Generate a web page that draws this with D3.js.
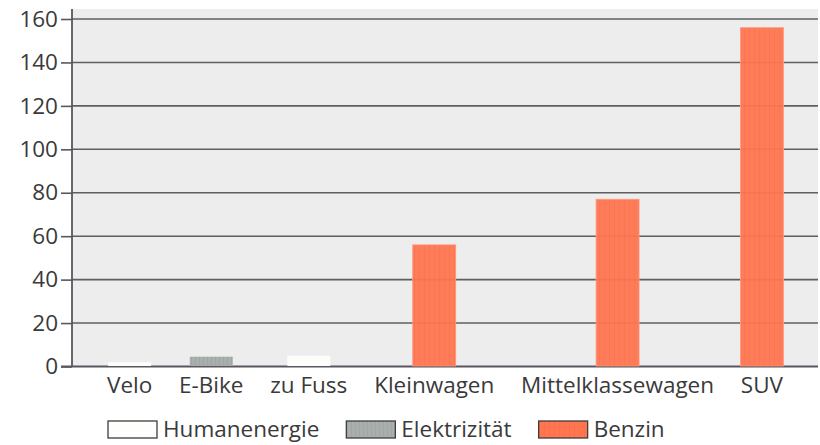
<!DOCTYPE html>
<html>
<head>
<meta charset="utf-8">
<script src="https://cdn.jsdelivr.net/npm/d3@7"></script>
<style>
  html, body { margin: 0; padding: 0; background: #ffffff; }
  svg { display: block; }
  text { font-family: "Open Sans", "Noto Sans", sans-serif; fill: #3a3a3a; }
</style>
</head>
<body>
<svg id="chart" width="820" height="445"></svg>
<script>
// Energy use per mode of transport
const categories = ["Velo", "E-Bike", "zu Fuss", "Kleinwagen", "Mittelklassewagen", "SUV"];
const values = [2, 4.5, 5, 56, 77, 156];
const energySource = ["Humanenergie", "Elektrizität", "Humanenergie", "Benzin", "Benzin", "Benzin"];
const energyTypes = ["Humanenergie", "Elektrizität", "Benzin"];
const yTickValues = [0, 20, 40, 60, 80, 100, 120, 140, 160];

const colorOf = d3.scaleOrdinal().domain(energyTypes).range(["#fdfdfb", "#a9afac", "#ff7650"]);
const patternOf = { "Humanenergie": null, "Elektrizität": "stripe-grey", "Benzin": "stripe-orange" };

const svg = d3.select("#chart");
const plot = { left: 72, right: 818, top: 9, bottom: 366.5 };
const fontSize = 22.5;

// Stripe patterns used for the filled marks
const defs = svg.append("defs");
function stripes(id, base, line, op, step) {
  const p = defs.append("pattern").attr("id", id).attr("patternUnits", "userSpaceOnUse")
    .attr("width", step).attr("height", 10);
  p.append("rect").attr("width", step).attr("height", 10).attr("fill", base);
  p.append("rect").attr("x", step - 1).attr("width", 1).attr("height", 10)
    .attr("fill", line).attr("opacity", op);
}
stripes("stripe-grey", colorOf("Elektrizität"), "#97a19c", 0.45, 4);
stripes("stripe-orange", colorOf("Benzin"), "#e8603e", 0.2, 5);
const fillOf = t => patternOf[t] ? `url(#${patternOf[t]})` : colorOf(t);

// y scale
const y = d3.scaleLinear().domain([0, 160]).range([plot.bottom, 19]);

// plot background
svg.append("rect").attr("x", plot.left).attr("y", plot.top)
  .attr("width", plot.right - plot.left).attr("height", plot.bottom - plot.top)
  .attr("fill", "#ededed");

// Horizontal x positions follow the widths of the category labels
const measure = svg.append("g").attr("font-size", fontSize);
const widths = categories.map(c => {
  const t = measure.append("text").text(c);
  const w = t.node().getComputedTextLength();
  t.remove();
  return w;
});
measure.remove();
const pad = 35;
const gap = (plot.right - plot.left - 2 * pad - d3.sum(widths)) / (categories.length - 1);
let cursor = plot.left + pad;
const centers = widths.map(w => { const c = cursor + w / 2; cursor += w + gap; return c; });
const x = d3.scaleOrdinal().domain(categories).range(centers);
const barW = 43;

// y axis ticks and labels
const yAxis = d3.axisLeft(y).tickValues(yTickValues).tickSize(11).tickPadding(3)
  .tickFormat(d3.format("d"));
const gy = svg.append("g").attr("transform", `translate(${plot.left},0)`).call(yAxis);
gy.select(".domain").remove();
gy.selectAll(".tick line").attr("stroke", "#5a5560").attr("stroke-width", 1.6);
gy.selectAll(".tick text").attr("font-size", fontSize).attr("fill", "#3f3f3f")
  .attr("font-family", "\"Open Sans\", sans-serif");

// gridlines
svg.append("g").selectAll("line").data(yTickValues.filter(v => v > 0)).join("line")
  .attr("x1", plot.left).attr("x2", plot.right)
  .attr("y1", d => y(d)).attr("y2", d => y(d))
  .attr("stroke", "#5f5f5f").attr("stroke-width", 1.6);

// baseline and vertical axis
svg.append("line").attr("x1", plot.left - 11).attr("x2", plot.right)
  .attr("y1", y(0)).attr("y2", y(0)).attr("stroke", "#5a5560").attr("stroke-width", 1.8);
svg.append("line").attr("x1", plot.left).attr("x2", plot.left)
  .attr("y1", plot.top).attr("y2", y(0)).attr("stroke", "#5a5560").attr("stroke-width", 1.8);

// bars
const rows = categories.map((c, i) => ({ c, v: values[i], t: energySource[i] }));
svg.append("g").selectAll("rect").data(rows).join("rect")
  .attr("x", d => x(d.c) - barW / 2)
  .attr("y", d => y(d.v))
  .attr("width", barW)
  .attr("height", d => y(0) - y(d.v) - 0.5)
  .attr("fill", d => fillOf(d.t))
  .attr("fill-opacity", d => d.t === "Benzin" ? 0.95 : 1)
  .attr("stroke", d => d.t === "Benzin" ? "#ff9a7c" : "none")
  .attr("stroke-width", 0.8);

// category labels
svg.append("g").selectAll("text").data(categories).join("text")
  .attr("x", d => x(d)).attr("y", 393)
  .attr("text-anchor", "middle").attr("font-size", fontSize)
  .text(d => d);

// legend
const legend = svg.append("g").attr("font-size", fontSize);
let lx = 108;
energyTypes.forEach(t => {
  legend.append("rect").attr("x", lx).attr("y", 421).attr("width", 49).attr("height", 17)
    .attr("fill", fillOf(t)).attr("stroke", "#3d3d3d").attr("stroke-width", 1.3);
  const txt = legend.append("text").attr("x", lx + 55).attr("y", 437).text(t);
  lx += 55 + txt.node().getComputedTextLength() + 27;
});
</script>
</body>
</html>
